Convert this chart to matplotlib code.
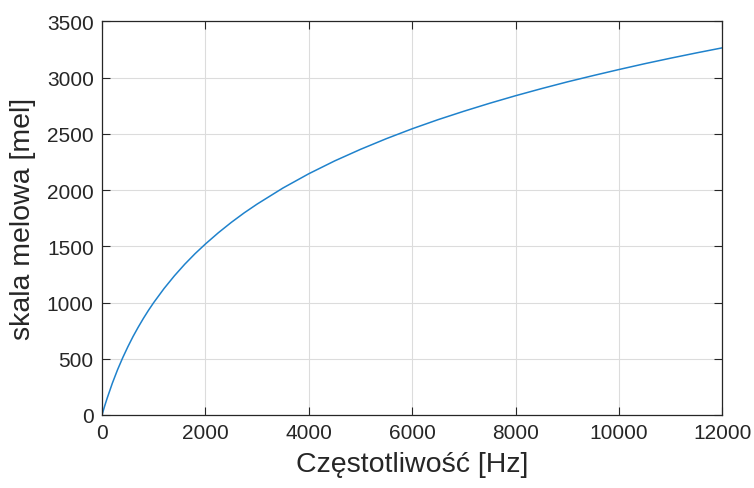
import matplotlib
matplotlib.use("Agg")
import matplotlib.pyplot as plt

# Frequency (Hz) and corresponding mel-scale values
freq_hz = [0, 50, 100, 200, 300, 400, 500, 600, 700, 800, 900, 1000,
           1200, 1400, 1600, 1800, 2000, 2250, 2500, 2750, 3000, 3500,
           4000, 4500, 5000, 5500, 6000, 6500, 7000, 7500, 8000, 8500,
           9000, 9500, 10000, 10500, 11000, 11500, 12000]
mel = [0, 78, 150, 283, 402, 509, 607, 698, 781, 859, 932, 1000,
       1125, 1238, 1341, 1435, 1521, 1621, 1713, 1798, 1876, 2019,
       2146, 2260, 2363, 2458, 2546, 2627, 2702, 2773, 2840, 2903,
       2963, 3019, 3073, 3125, 3174, 3221, 3266]

x_ticks = [0, 2000, 4000, 6000, 8000, 10000, 12000]
y_ticks = [0, 500, 1000, 1500, 2000, 2500, 3000, 3500]

plt.rcParams['font.family'] = ['Liberation Sans', 'DejaVu Sans']
text_color = '#262626'

fig = plt.figure(figsize=(7.54, 4.89), dpi=100)
ax = fig.add_axes([0.1353, 0.1493, 0.8229, 0.8047])

ax.plot(freq_hz, mel, color='#1f82cc', lw=1.1)

ax.set_xlim(0, 12000)
ax.set_ylim(0, 3500)
ax.set_xticks(x_ticks)
ax.set_yticks(y_ticks)
ax.set_xticklabels([str(t) for t in x_ticks])
ax.set_yticklabels([str(t) for t in y_ticks])

ax.grid(True, color='#dcdcdc', lw=0.8)
ax.set_axisbelow(True)

for s in ax.spines.values():
    s.set_color(text_color)
    s.set_linewidth(0.9)

ax.tick_params(direction='in', length=5.5, width=0.8, colors=text_color,
               labelsize=15, top=True, right=True, pad=6)
for lbl in ax.get_xticklabels() + ax.get_yticklabels():
    lbl.set_color(text_color)

ax.set_xlabel('Częstotliwość [Hz]', fontsize=20.5, color=text_color, labelpad=6)
ax.set_ylabel('skala melowa [mel]', fontsize=20.5, color=text_color, labelpad=8)

fig.savefig('out.png', dpi=100)
